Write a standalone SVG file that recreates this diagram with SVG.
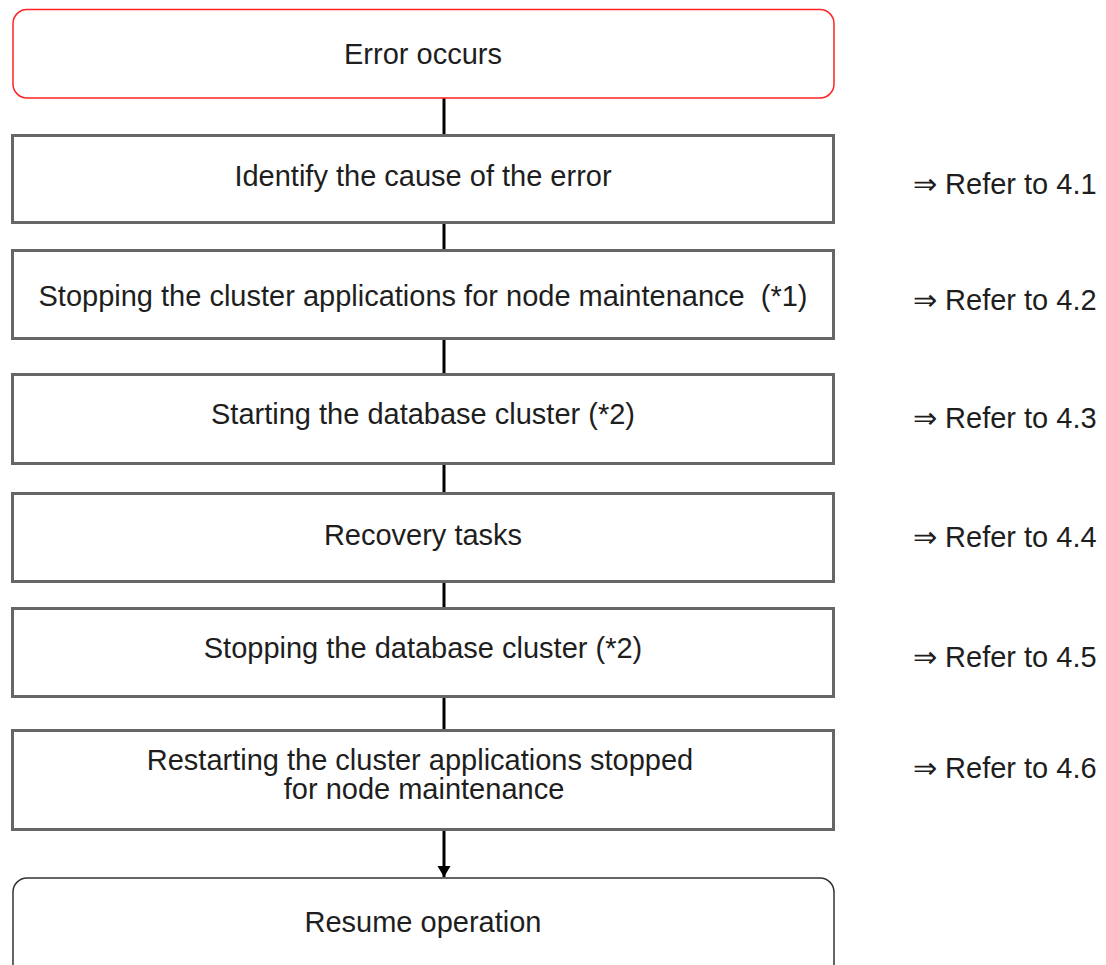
<svg xmlns="http://www.w3.org/2000/svg" width="1106" height="965" viewBox="0 0 1106 965">
<style>
text{font-family:"Liberation Sans",Arial,sans-serif;font-size:29px;fill:#1e1e1e}
.c{text-anchor:middle}
.box{fill:#fff;stroke:#666;stroke-width:3}
.conn{stroke:#000;stroke-width:3;fill:none}
</style>
<defs>
<marker id="ah" markerWidth="14" markerHeight="14" refX="11" refY="6.5" orient="auto" markerUnits="userSpaceOnUse">
<path d="M0,0 L11,6.5 L0,13 Z" fill="#000"/>
</marker>
</defs>
<rect width="1106" height="965" fill="#fff"/>
<g id="connectors">
<line class="conn" x1="444" y1="98" x2="444" y2="135"/>
<line class="conn" x1="444" y1="223" x2="444" y2="250"/>
<line class="conn" x1="444" y1="339" x2="444" y2="374"/>
<line class="conn" x1="444" y1="464" x2="444" y2="493"/>
<line class="conn" x1="444" y1="582" x2="444" y2="608"/>
<line class="conn" x1="444" y1="697" x2="444" y2="730"/>
<line class="conn" x1="444" y1="830" x2="444" y2="877" marker-end="url(#ah)"/>
</g>
<g id="n0">
<rect x="13" y="9.5" width="821" height="88.5" rx="14" fill="#fff" stroke="#f22" stroke-width="1.5"/>
<text class="c" x="423" y="64">Error occurs</text>
</g>
<g id="n1">
<rect class="box" x="12.5" y="135.5" width="821" height="87"/>
<text class="c" x="423" y="186">Identify the cause of the error</text>
</g>
<g id="n2">
<rect class="box" x="12.5" y="250.5" width="821" height="88"/>
<text class="c" x="423" y="306" xml:space="preserve">Stopping the cluster applications for node maintenance  (*1)</text>
</g>
<g id="n3">
<rect class="box" x="12.5" y="374.5" width="821" height="89"/>
<text class="c" x="423" y="424">Starting the database cluster (*2)</text>
</g>
<g id="n4">
<rect class="box" x="12.5" y="493.5" width="821" height="88"/>
<text class="c" x="423" y="545">Recovery tasks</text>
</g>
<g id="n5">
<rect class="box" x="12.5" y="608.5" width="821" height="88"/>
<text class="c" x="423" y="658">Stopping the database cluster (*2)</text>
</g>
<g id="n6">
<rect class="box" x="12.5" y="730.5" width="821" height="99"/>
<text class="c" x="420" y="770">Restarting the cluster applications stopped</text>
<text class="c" x="424" y="799">for node maintenance</text>
</g>
<g id="n7">
<rect x="13" y="878" width="821" height="110" rx="14" fill="#fff" stroke="#333" stroke-width="1.5"/>
<text class="c" x="423" y="932">Resume operation</text>
</g>
<g id="refs">
<text x="913" y="194">⇒ Refer to 4.1</text>
<text x="913" y="310">⇒ Refer to 4.2</text>
<text x="913" y="428">⇒ Refer to 4.3</text>
<text x="913" y="547">⇒ Refer to 4.4</text>
<text x="913" y="667">⇒ Refer to 4.5</text>
<text x="913" y="778">⇒ Refer to 4.6</text>
</g>
</svg>
